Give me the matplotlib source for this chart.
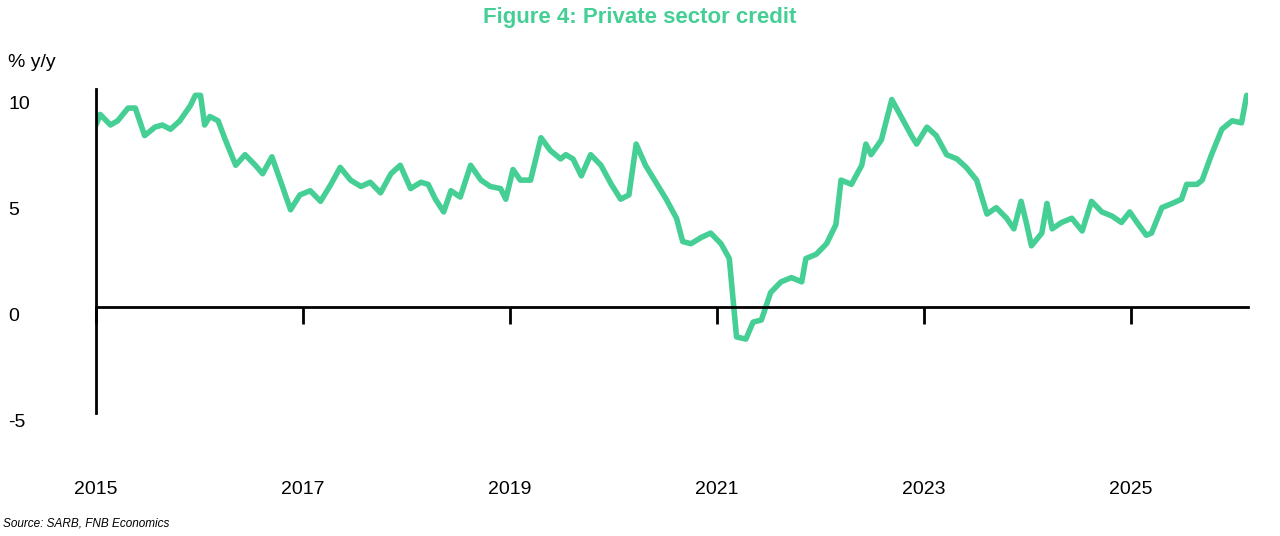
import numpy as np
from matplotlib import pyplot as plt
from matplotlib import transforms

plt.rcParams['font.family'] = ['Liberation Sans', 'DejaVu Sans']

GREEN = '#45CF95'

# years since Jan 2015 and % y/y growth
t_off = [0.00, 0.04, 0.14, 0.21, 0.31, 0.38, 0.47, 0.57, 0.64, 0.72, 0.81, 0.91, 0.96, 1.01,
         1.05, 1.10, 1.18, 1.25, 1.35, 1.44, 1.54, 1.61, 1.70, 1.78, 1.88, 1.97, 2.07, 2.17,
         2.27, 2.36, 2.46, 2.56, 2.65, 2.75, 2.85, 2.94, 3.04, 3.14, 3.21, 3.28, 3.36, 3.43,
         3.52, 3.62, 3.72, 3.81, 3.91, 3.96, 4.03, 4.10, 4.20, 4.30, 4.39, 4.49, 4.54, 4.61,
         4.69, 4.78, 4.88, 4.98, 5.07, 5.15, 5.22, 5.31, 5.41, 5.51, 5.61, 5.67, 5.75, 5.85,
         5.94, 6.04, 6.12, 6.19, 6.28, 6.35, 6.43, 6.52, 6.62, 6.72, 6.82, 6.86, 6.96, 7.06,
         7.15, 7.20, 7.30, 7.40, 7.44, 7.49, 7.59, 7.69, 7.78, 7.88, 7.93, 8.03, 8.12, 8.22,
         8.32, 8.41, 8.51, 8.61, 8.70, 8.80, 8.87, 8.94, 8.99, 9.04, 9.14, 9.19, 9.24, 9.33,
         9.43, 9.53, 9.62, 9.72, 9.82, 9.91, 9.99, 10.06, 10.15, 10.20, 10.30, 10.40, 10.49,
         10.54, 10.64, 10.69, 10.78, 10.88, 10.98, 11.07, 11.12]
credit = [8.6, 9.1, 8.6, 8.8, 9.4, 9.4, 8.1, 8.5, 8.6, 8.4, 8.8, 9.5, 10.0, 10.0,
          8.6, 9.0, 8.8, 7.9, 6.7, 7.2, 6.7, 6.3, 7.1, 6.0, 4.6, 5.3, 5.5, 5.0,
          5.8, 6.6, 6.0, 5.7, 5.9, 5.4, 6.3, 6.7, 5.6, 5.9, 5.8, 5.1, 4.5, 5.5,
          5.2, 6.7, 6.0, 5.7, 5.6, 5.1, 6.5, 6.0, 6.0, 8.0, 7.4, 7.0, 7.2, 7.0,
          6.2, 7.2, 6.7, 5.8, 5.1, 5.3, 7.7, 6.7, 5.9, 5.1, 4.2, 3.1, 3.0, 3.3,
          3.5, 3.0, 2.3, -1.4, -1.5, -0.7, -0.6, 0.7, 1.2, 1.4, 1.2, 2.3, 2.5, 3.0,
          3.9, 6.0, 5.8, 6.7, 7.7, 7.2, 7.9, 9.8, 9.0, 8.1, 7.7, 8.5, 8.1, 7.2,
          7.0, 6.6, 6.0, 4.4, 4.7, 4.2, 3.7, 5.0, 4.0, 2.9, 3.5, 4.9, 3.7, 4.0,
          4.2, 3.6, 5.0, 4.5, 4.3, 4.0, 4.5, 4.0, 3.4, 3.5, 4.7, 4.9, 5.1,
          5.8, 5.8, 6.0, 7.2, 8.4, 8.8, 8.7, 10.0]
years = np.array(t_off) + 2015

tick_years = [2015, 2017, 2019, 2021, 2023, 2025]
y_ticks = [10, 5, 0, -5]

fig = plt.figure(figsize=(12.8, 5.36), dpi=100)
ax = fig.add_axes([0.075, 0.229, 0.9, 0.605])

ax.plot(years, credit, color=GREEN, lw=4, solid_joinstyle='round', solid_capstyle='round')
ax.set_xlim(2015, 2015 + 1150 / 103.3)
ax.set_ylim(-5, 10.3)

for s in ['top', 'right']:
    ax.spines[s].set_visible(False)
ax.spines['bottom'].set_position(('data', 0))
ax.spines['left'].set_linewidth(2)
ax.spines['bottom'].set_linewidth(2)
ax.set_xticks(tick_years)
ax.tick_params(axis='x', direction='out', length=12, width=2, labelbottom=False)
ax.set_yticks([])

xt = transforms.blended_transform_factory(ax.transData, fig.transFigure)
for yr in tick_years:
    ax.text(yr, 1 - 490 / 536, str(yr), transform=xt, ha='center', va='center', fontsize=14)

yt = transforms.blended_transform_factory(fig.transFigure, ax.transData)
for v in y_ticks:
    ax.text(8 / 1280, v - 0.45, str(v), transform=yt, ha='left', va='center', fontsize=14)

fig.text(8 / 1280, 1 - 62 / 536, '% y/y', ha='left', va='center', fontsize=14)
fig.text(0.5, 1 - 17 / 536, 'Figure 4: Private sector credit', ha='center', va='center',
         fontsize=16, fontweight='bold', color=GREEN)
fig.text(3 / 1280, 1 - 524 / 536, 'Source: SARB, FNB Economics', ha='left', va='center',
         fontsize=8.5, style='italic')

fig.savefig('out.png', dpi=100)
